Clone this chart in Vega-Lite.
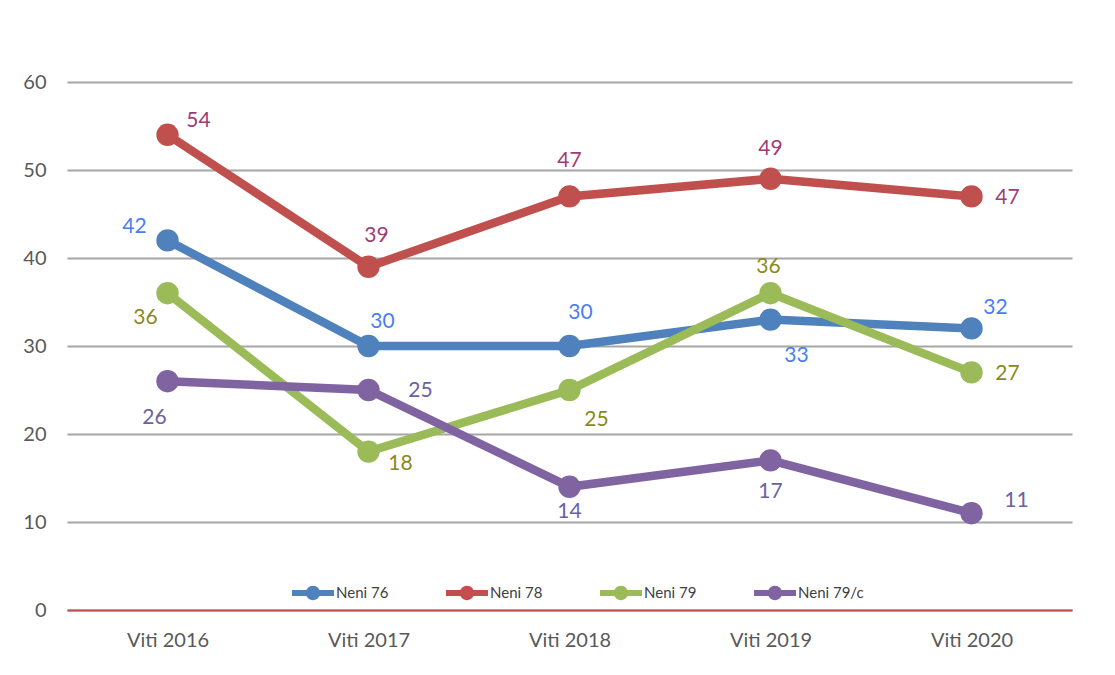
{
  "$schema": "https://vega.github.io/schema/vega-lite/v6.json",
  "width": 1005,
  "height": 528,
  "autosize": {"type": "none"},
  "padding": {"left": 67, "top": 82, "right": 43, "bottom": 65},
  "background": "white",
  "config": {
    "font": "Lato",
    "view": {"stroke": null},
    "axis": {"labelFont": "Lato", "labelColor": "#595959", "labelFontSize": 20, "ticks": false, "title": null}
  },
  "data": {"values": [
    {"year": "Viti 2016", "series": "Neni 76", "value": 42},
    {"year": "Viti 2017", "series": "Neni 76", "value": 30},
    {"year": "Viti 2018", "series": "Neni 76", "value": 30},
    {"year": "Viti 2019", "series": "Neni 76", "value": 33},
    {"year": "Viti 2020", "series": "Neni 76", "value": 32},
    {"year": "Viti 2016", "series": "Neni 78", "value": 54},
    {"year": "Viti 2017", "series": "Neni 78", "value": 39},
    {"year": "Viti 2018", "series": "Neni 78", "value": 47},
    {"year": "Viti 2019", "series": "Neni 78", "value": 49},
    {"year": "Viti 2020", "series": "Neni 78", "value": 47},
    {"year": "Viti 2016", "series": "Neni 79", "value": 36},
    {"year": "Viti 2017", "series": "Neni 79", "value": 18},
    {"year": "Viti 2018", "series": "Neni 79", "value": 25},
    {"year": "Viti 2019", "series": "Neni 79", "value": 36},
    {"year": "Viti 2020", "series": "Neni 79", "value": 27},
    {"year": "Viti 2016", "series": "Neni 79/c", "value": 26},
    {"year": "Viti 2017", "series": "Neni 79/c", "value": 25},
    {"year": "Viti 2018", "series": "Neni 79/c", "value": 14},
    {"year": "Viti 2019", "series": "Neni 79/c", "value": 17},
    {"year": "Viti 2020", "series": "Neni 79/c", "value": 11}
  ]},
  "encoding": {
    "x": {"field": "year", "type": "ordinal", "scale": {"type": "point", "padding": 0.5},
      "axis": {"labelAngle": 0, "labelPadding": 20, "domain": true, "domainColor": "#c0504d", "domainWidth": 2, "grid": false}},
    "y": {"field": "value", "type": "quantitative", "scale": {"domain": [0, 60], "nice": false},
      "axis": {"values": [0, 10, 20, 30, 40, 50, 60], "domain": false, "grid": true, "gridColor": "#a6a6a6", "gridWidth": 2, "labelPadding": 21}}
  },
  "layer": [
    {
      "mark": {"type": "line", "strokeWidth": 8.5},
      "encoding": {
        "color": {"field": "series", "type": "nominal",
          "scale": {"domain": ["Neni 76", "Neni 78", "Neni 79", "Neni 79/c"], "range": ["#4f81bd", "#c0504d", "#9bbb59", "#8064a2"]},
          "legend": {"orient": "none", "legendX": 225, "legendY": 490, "direction": "horizontal", "columns": 4, "gridAlign": "all", "title": null,
            "symbolType": "M-1,-0.14L1,-0.14L1,0.14L-1,0.14ZM0.34,0A0.34,0.34 0 1,1 -0.34,0A0.34,0.34 0 1,1 0.34,0Z",
            "symbolSize": 1764, "symbolStrokeWidth": 0, "symbolOpacity": 1, "labelFont": "Lato", "labelFontSize": 15, "labelColor": "#404040", "labelOffset": 2, "columnPadding": 44}
        }
      }
    },
    {
      "mark": {"type": "point", "filled": true, "size": 500, "opacity": 1},
      "encoding": {"color": {"field": "series", "type": "nominal"}}
    },
    {"transform": [{"filter": "datum.series=='Neni 76' && datum.year=='Viti 2016'"}], "mark": {"type": "text", "dx": -33, "dy": -13, "color": "#4a7df2", "fontSize": 21}, "encoding": {"text": {"field": "value"}}},
    {"transform": [{"filter": "datum.series=='Neni 76' && datum.year=='Viti 2017'"}], "mark": {"type": "text", "dx": 14, "dy": -24, "color": "#4a7df2", "fontSize": 21}, "encoding": {"text": {"field": "value"}}},
    {"transform": [{"filter": "datum.series=='Neni 76' && datum.year=='Viti 2018'"}], "mark": {"type": "text", "dx": 11, "dy": -33, "color": "#4a7df2", "fontSize": 21}, "encoding": {"text": {"field": "value"}}},
    {"transform": [{"filter": "datum.series=='Neni 76' && datum.year=='Viti 2019'"}], "mark": {"type": "text", "dx": 26, "dy": 36, "color": "#4a7df2", "fontSize": 21}, "encoding": {"text": {"field": "value"}}},
    {"transform": [{"filter": "datum.series=='Neni 76' && datum.year=='Viti 2020'"}], "mark": {"type": "text", "dx": 24, "dy": -20, "color": "#4a7df2", "fontSize": 21}, "encoding": {"text": {"field": "value"}}},
    {"transform": [{"filter": "datum.series=='Neni 78' && datum.year=='Viti 2016'"}], "mark": {"type": "text", "dx": 31, "dy": -14, "color": "#a03c74", "fontSize": 21}, "encoding": {"text": {"field": "value"}}},
    {"transform": [{"filter": "datum.series=='Neni 78' && datum.year=='Viti 2017'"}], "mark": {"type": "text", "dx": 8, "dy": -31, "color": "#a03c74", "fontSize": 21}, "encoding": {"text": {"field": "value"}}},
    {"transform": [{"filter": "datum.series=='Neni 78' && datum.year=='Viti 2018'"}], "mark": {"type": "text", "dx": 0, "dy": -35, "color": "#a03c74", "fontSize": 21}, "encoding": {"text": {"field": "value"}}},
    {"transform": [{"filter": "datum.series=='Neni 78' && datum.year=='Viti 2019'"}], "mark": {"type": "text", "dx": 0, "dy": -30, "color": "#a03c74", "fontSize": 21}, "encoding": {"text": {"field": "value"}}},
    {"transform": [{"filter": "datum.series=='Neni 78' && datum.year=='Viti 2020'"}], "mark": {"type": "text", "dx": 36, "dy": 2, "color": "#a03c74", "fontSize": 21}, "encoding": {"text": {"field": "value"}}},
    {"transform": [{"filter": "datum.series=='Neni 79' && datum.year=='Viti 2016'"}], "mark": {"type": "text", "dx": -22, "dy": 25, "color": "#8a8a1c", "fontSize": 21}, "encoding": {"text": {"field": "value"}}},
    {"transform": [{"filter": "datum.series=='Neni 79' && datum.year=='Viti 2017'"}], "mark": {"type": "text", "dx": 32, "dy": 12, "color": "#8a8a1c", "fontSize": 21}, "encoding": {"text": {"field": "value"}}},
    {"transform": [{"filter": "datum.series=='Neni 79' && datum.year=='Viti 2018'"}], "mark": {"type": "text", "dx": 27, "dy": 30, "color": "#8a8a1c", "fontSize": 21}, "encoding": {"text": {"field": "value"}}},
    {"transform": [{"filter": "datum.series=='Neni 79' && datum.year=='Viti 2019'"}], "mark": {"type": "text", "dx": -2, "dy": -26, "color": "#8a8a1c", "fontSize": 21}, "encoding": {"text": {"field": "value"}}},
    {"transform": [{"filter": "datum.series=='Neni 79' && datum.year=='Viti 2020'"}], "mark": {"type": "text", "dx": 36, "dy": 2, "color": "#8a8a1c", "fontSize": 21}, "encoding": {"text": {"field": "value"}}},
    {"transform": [{"filter": "datum.series=='Neni 79/c' && datum.year=='Viti 2016'"}], "mark": {"type": "text", "dx": -13, "dy": 37, "color": "#6a62a0", "fontSize": 21}, "encoding": {"text": {"field": "value"}}},
    {"transform": [{"filter": "datum.series=='Neni 79/c' && datum.year=='Viti 2017'"}], "mark": {"type": "text", "dx": 52, "dy": 1, "color": "#6a62a0", "fontSize": 21}, "encoding": {"text": {"field": "value"}}},
    {"transform": [{"filter": "datum.series=='Neni 79/c' && datum.year=='Viti 2018'"}], "mark": {"type": "text", "dx": 0, "dy": 25, "color": "#6a62a0", "fontSize": 21}, "encoding": {"text": {"field": "value"}}},
    {"transform": [{"filter": "datum.series=='Neni 79/c' && datum.year=='Viti 2019'"}], "mark": {"type": "text", "dx": 0, "dy": 32, "color": "#6a62a0", "fontSize": 21}, "encoding": {"text": {"field": "value"}}},
    {"transform": [{"filter": "datum.series=='Neni 79/c' && datum.year=='Viti 2020'"}], "mark": {"type": "text", "dx": 45, "dy": -12, "color": "#6a62a0", "fontSize": 21}, "encoding": {"text": {"field": "value"}}}
  ]
}
